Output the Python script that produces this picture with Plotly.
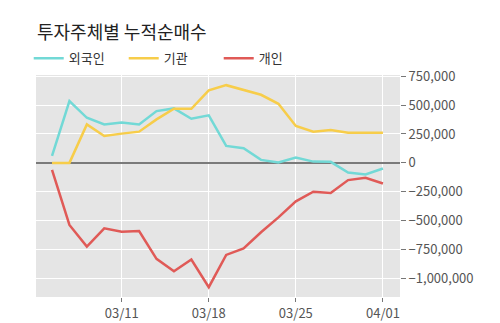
import plotly.graph_objects as go

dates = ["03/05", "03/06", "03/07", "03/08", "03/11", "03/12", "03/13", "03/14", "03/15",
         "03/18", "03/19", "03/20", "03/21", "03/22", "03/25", "03/26", "03/27", "03/28",
         "03/29", "04/01"]
foreign = [60000, 535000, 390000, 333000, 350000, 333000, 448000, 471000, 382000, 411000,
           147000, 127000, 26000, 3000, 46000, 11000, 9000, -83000, -101000, -49000]
institution = [0, 0, 333000, 233000, 253000, 270000, 376000, 468000, 468000, 627000,
               672000, 629000, 589000, 511000, 319000, 270000, 284000, 261000, 261000, 261000]
individual = [-60000, -537000, -724000, -566000, -595000, -589000, -830000, -937000, -836000,
              -1075000, -796000, -739000, -600000, -471000, -333000, -250000, -261000,
              -149000, -129000, -178000]
series_names = ["외국인", "기관", "개인"]
colors = ["#72D9D6", "#F7CD4A", "#E05A57"]
xtick_labels = ["03/11", "03/18", "03/25", "04/01"]
ytick_vals = [750000, 500000, 250000, 0, -250000, -500000, -750000, -1000000]

FONT = "Noto Sans CJK KR"
fig = go.Figure()
for name, vals, c in zip(series_names, [foreign, institution, individual], colors):
    fig.add_trace(go.Scatter(x=list(range(len(dates))), y=vals, mode="lines", name=name,
                             line=dict(color=c, width=2.5)))

fig.update_layout(
    width=500, height=323,
    margin=dict(l=36, r=100, t=75, b=26),
    paper_bgcolor="white", plot_bgcolor="#E5E5E5",
    font=dict(family=FONT, size=12, color="#555555"),
    title=dict(text="투자주체별 누적순매수", x=0.074, xanchor="left", y=0.9, yanchor="middle",
               font=dict(family=FONT, size=18, color="#222222")),
    legend=dict(orientation="h", x=-0.02, xanchor="left", y=1.075, yanchor="middle",
                font=dict(family=FONT, size=13, color="#333333"),
                entrywidth=50, entrywidthmode="pixels", bgcolor="rgba(0,0,0,0)"),
    showlegend=True,
)
fig.update_xaxes(
    range=[-0.92, 19.98], automargin=False,
    tickvals=[dates.index(d) for d in xtick_labels], ticktext=xtick_labels,
    showgrid=True, gridcolor="white", gridwidth=1.2,
    ticks="outside", ticklen=4, tickcolor="#777777",
    zeroline=False, showline=False,
    tickfont=dict(size=13, color="#555555"),
)
fig.update_yaxes(
    side="right", range=[-1160000, 760000], automargin=False,
    tickvals=ytick_vals, tickformat=",",
    showgrid=True, gridcolor="white", gridwidth=1.2,
    ticks="outside", ticklen=5, tickcolor="#777777",
    zeroline=True, zerolinecolor="#7A7A7A", zerolinewidth=1.5,
    showline=False,
    tickfont=dict(size=13, color="#555555"),
)
fig.write_html("out.html")
